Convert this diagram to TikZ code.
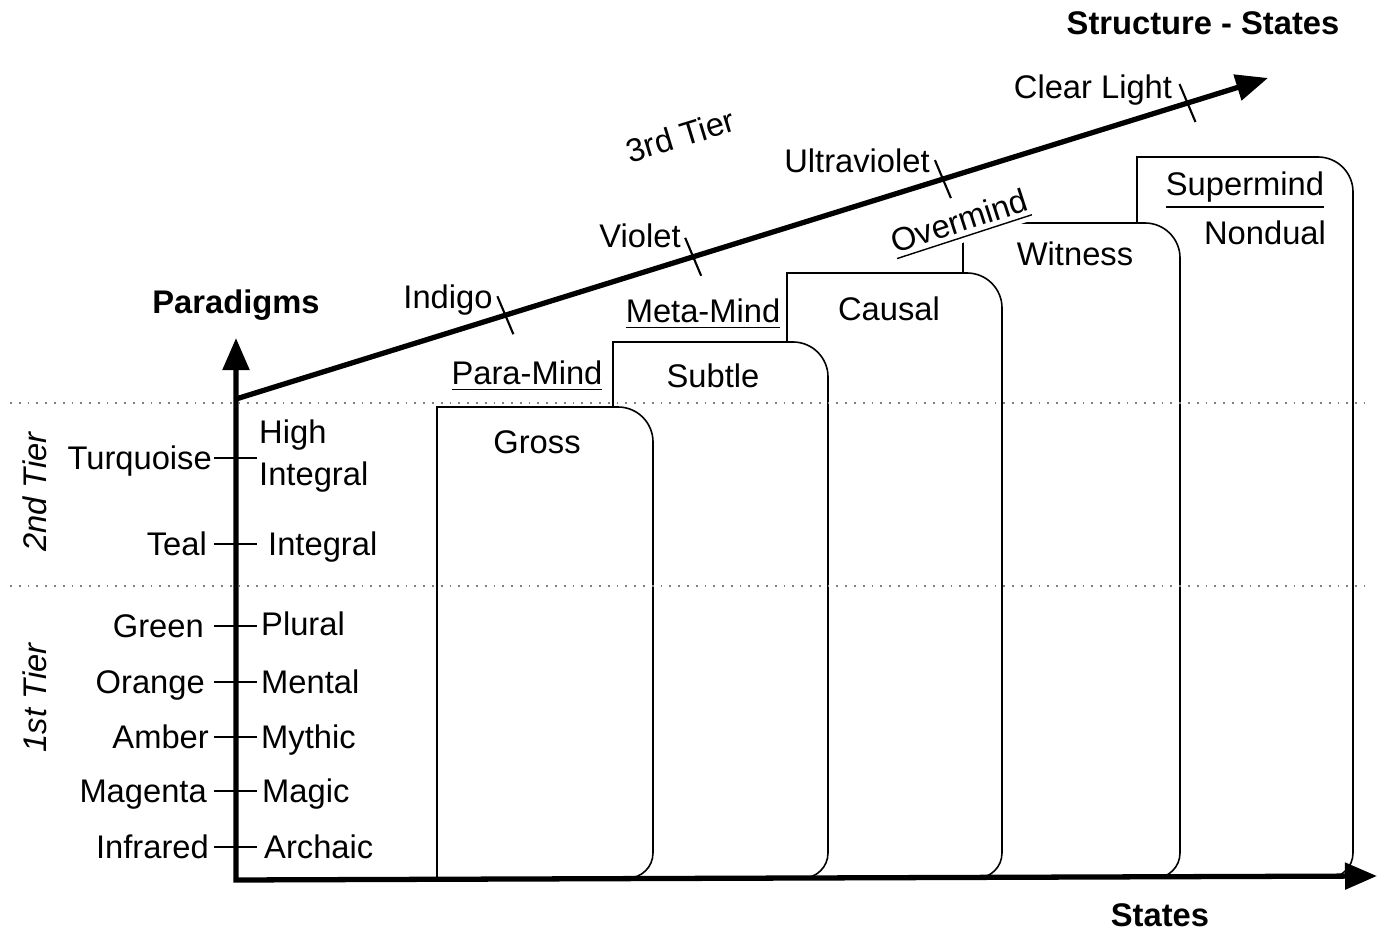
\documentclass[tikz,border=0pt]{standalone}
\usepackage{fontspec}
\setmainfont{Liberation Sans}
\usetikzlibrary{arrows.meta,calc}
\tikzset{
  lbl/.style={font=\fontsize{9.3}{11}\selectfont, inner sep=1pt,
              text height=0.72em, text depth=0.2em},
  ttl/.style={lbl, font=\fontsize{9.3}{11}\selectfont\bfseries},
  tierlbl/.style={lbl, font=\fontsize{9.3}{11}\selectfont\itshape, rotate=90},
  axis/.style={line width=1.5pt, line join=miter,
               {Triangle[length=0.32cm,width=0.26cm]}-{Triangle[length=0.32cm,width=0.26cm]}},
  diag/.style={line width=1.5pt, -{Triangle[length=0.32cm,width=0.26cm]}},
  tk/.style={line width=0.6pt},
  stbox/.style={draw, fill=white, line width=0.45pt},
  tierline/.style={gray, dotted, line width=0.5pt},
}

\begin{document}
\begin{tikzpicture}[x=0.01cm, y=-0.01cm]
  \useasboundingbox (0,0) rectangle (1384,934);

  % state boxes, back to front
  \foreach \l/\t/\r in {1137/157/1353, 963/223/1180, 787/273/1002, 613/342/828, 437/407/653}
    \filldraw[stbox] (\l,878) -- (\l,\t) -- ({\r-35},\t)
      arc[start angle=90, end angle=0, radius=0.35cm] -- (\r,853)
      arc[start angle=0, end angle=-90, radius=0.25cm] -- cycle;

  % tier lines
  \draw[tierline] (10,403) -- (1365,403);
  \draw[tierline] (10,586) -- (1365,586);

  % axes
  \coordinate (o) at (236,880);
  \coordinate (ytop) at (236,338);
  \coordinate (xend) at (1377,876);
  \coordinate (dstart) at (236,399);
  \coordinate (dend) at (1268,78);
  \draw[axis] (ytop) -- (o) -- (xend);
  \draw[diag] (dstart) -- (dend)
    coordinate[pos=0.261] (cind) coordinate[pos=0.443] (cvio)
    coordinate[pos=0.685] (cuv) coordinate[pos=0.922] (ccl);
  \foreach \c in {cind, cvio, cuv, ccl}
    \draw[tk] (\c) ++(-8,-19) -- ++(16,38);

  \node[ttl] (title) at (1203,25) {Structure - States};
  \node[ttl] (parad) at (236,304) {Paradigms};
  \node[ttl] (states) at (1160,917) {States};

  % structure-stages on the diagonal
  \node[lbl] (indigo) at (448,299) {Indigo};
  \node[lbl] (violet) at (640,238) {Violet};
  \node[lbl] (ultrav) at (857,163) {Ultraviolet};
  \node[lbl] (clearl) at (1093,89) {Clear Light};
  \node[lbl, rotate=17] (tier3) at (681,138) {3rd Tier};

  % states
  \node[lbl] (gross) at (537,444) {Gross};
  \node[lbl] (subtle) at (713,378) {Subtle};
  \node[lbl] (causal) at (889,311) {Causal};
  \node[lbl] (witness) at (1075,256) {Witness};
  \node[lbl] (nondual) at (1265,235) {Nondual};
  \node[lbl] (paramind) at (527,375) {\underline{Para-Mind}};
  \node[lbl] (metamind) at (703,313) {\underline{Meta-Mind}};
  \node[lbl, rotate=18, fill=white] (overmind) at (960,223) {\underline{Overmind}};
  \node[lbl] (supermind) at (1245,186) {\underline{Supermind}};

  % paradigms on the vertical axis
  \node[lbl, anchor=east] (turq) at (216,460) {Turquoise};
  \node[lbl, anchor=east] (teal) at (211,546) {Teal};
  \node[lbl, anchor=east] (green) at (208,628) {Green};
  \node[lbl, anchor=east] (orange) at (209,684) {Orange};
  \node[lbl, anchor=east] (amber) at (213,739) {Amber};
  \node[lbl, anchor=east] (magenta) at (211,793) {Magenta};
  \node[lbl, anchor=east] (infra) at (213,849) {Infrared};
  \node[lbl, anchor=west, align=left, text height=, text depth=] (hiint) at (255,456) {High\\[1pt]Integral};
  \node[lbl, anchor=west] (integ) at (264,546) {Integral};
  \node[lbl, anchor=west] (plural) at (257,626) {Plural};
  \node[lbl, anchor=west] (mental) at (257,684) {Mental};
  \node[lbl, anchor=west] (mythic) at (257,739) {Mythic};
  \node[lbl, anchor=west] (magic) at (258,793) {Magic};
  \node[lbl, anchor=west] (archaic) at (260,849) {Archaic};
  \foreach \y in {458, 544, 626, 682, 737, 791, 847}
    \draw[tk] (214,\y) -- (257,\y);

  \node[tierlbl] (tier2) at (37,492) {2nd Tier};
  \node[tierlbl] (tier1) at (37,698) {1st Tier};
\end{tikzpicture}
\end{document}
